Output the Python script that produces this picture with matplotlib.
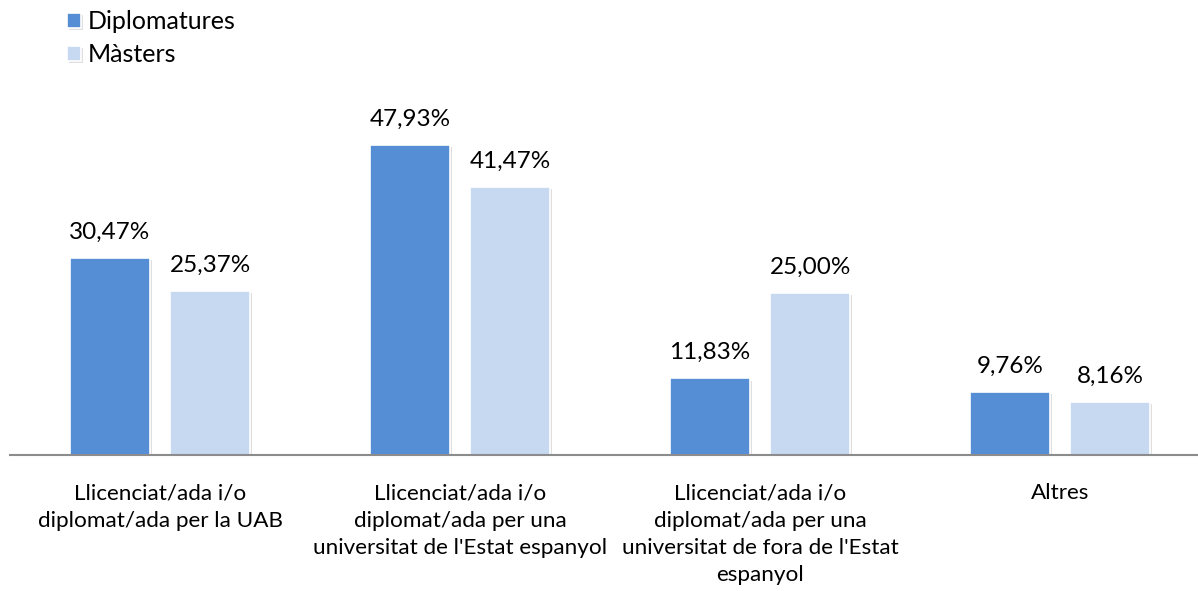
import numpy as np
import matplotlib.pyplot as plt
import matplotlib.patheffects as pe

plt.rcParams["font.family"] = ["Lato", "DejaVu Sans"]

categories = [
    "Llicenciat/ada i/o\ndiplomat/ada per la UAB",
    "Llicenciat/ada i/o\ndiplomat/ada per una\nuniversitat de l'Estat espanyol",
    "Llicenciat/ada i/o\ndiplomat/ada per una\nuniversitat de fora de l'Estat\nespanyol",
    "Altres",
]
diplomatures = [30.47, 47.93, 11.83, 9.76]
masters = [25.37, 41.47, 25.00, 8.16]
series_names = ["Diplomatures", "Màsters"]
colors = ["#558ED5", "#C6D9F1"]

fig = plt.figure(figsize=(11.98, 5.91), dpi=100)
ax = fig.add_axes([10 / 1198, 136 / 591, 1188 / 1198, 388 / 591])

x = np.arange(len(categories))
w = 0.267
off = 0.167
shadow = [pe.SimplePatchShadow(offset=(1.5, -1.5), alpha=0.25, shadow_rgbFace="#808080"), pe.Normal()]

for vals, dx, col, name in [(diplomatures, -off, colors[0], series_names[0]),
                            (masters, off, colors[1], series_names[1])]:
    bars = ax.bar(x + dx, vals, width=w, color=col, edgecolor="white", linewidth=1.2,
                  label=name, zorder=2)
    for b in bars:
        b.set_path_effects(shadow)
    for xi, v in zip(x + dx, vals):
        ax.annotate(f"{v:.2f}%".replace(".", ","), (xi, v), xytext=(0, 11),
                    textcoords="offset points", ha="center", va="bottom", fontsize=17.5)

ax.set_xlim(-0.5, 3.46)
ax.set_ylim(0, 60)
for s in ["top", "right", "left"]:
    ax.spines[s].set_visible(False)
ax.spines["bottom"].set_color("#8c8c8c")
ax.spines["bottom"].set_linewidth(1.5)
ax.spines["bottom"].set_zorder(3)
ax.set_yticks([])
ax.set_xticks(x)
ax.set_xticklabels(categories, fontsize=16.2, linespacing=1.44, va="top")
ax.tick_params(axis="x", length=0, pad=20.5)

leg = fig.legend(loc="upper left", bbox_to_anchor=(67 / 1198, 1 - 10 / 591), frameon=False,
                 fontsize=18, handlelength=0.55, handleheight=0.55, handletextpad=0.3,
                 labelspacing=0.42, borderaxespad=0, borderpad=0)

fig.savefig("out.png", dpi=100)
